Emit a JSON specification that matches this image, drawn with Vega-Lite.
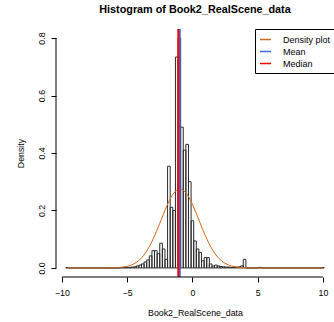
{
  "$schema": "https://vega.github.io/schema/vega-lite/v6.json",
  "width": 278,
  "height": 248,
  "autosize": {"type": "none"},
  "padding": {"left": 56, "top": 29, "right": 0, "bottom": 45},
  "background": "white",
  "title": {
    "text": "Histogram of Book2_RealScene_data",
    "font": "Liberation Sans",
    "fontSize": 10.8,
    "fontWeight": "bold",
    "color": "black",
    "anchor": "middle",
    "offset": 13
  },
  "config": {
    "view": {"stroke": null},
    "font": "Liberation Sans",
    "axis": {
      "grid": false,
      "domain": false,
      "tickColor": "black",
      "tickSize": 5,
      "labelFont": "Liberation Sans",
      "labelFontSize": 8.8,
      "labelColor": "black",
      "titleFont": "Liberation Sans",
      "titleFontSize": 8.8,
      "titleFontWeight": "normal",
      "titleColor": "black"
    }
  },
  "datasets": {
    "bins": [
      {"bin_start": -9.7, "bin_end": -9.5, "density": 0.001},
      {"bin_start": -9.5, "bin_end": -9.3, "density": 0},
      {"bin_start": -9.3, "bin_end": -9.1, "density": 0},
      {"bin_start": -9.1, "bin_end": -8.9, "density": 0},
      {"bin_start": -8.9, "bin_end": -8.7, "density": 0},
      {"bin_start": -8.7, "bin_end": -8.5, "density": 0},
      {"bin_start": -8.5, "bin_end": -8.3, "density": 0},
      {"bin_start": -8.3, "bin_end": -8.1, "density": 0},
      {"bin_start": -8.1, "bin_end": -7.9, "density": 0},
      {"bin_start": -7.9, "bin_end": -7.7, "density": 0},
      {"bin_start": -7.7, "bin_end": -7.5, "density": 0},
      {"bin_start": -7.5, "bin_end": -7.3, "density": 0},
      {"bin_start": -7.3, "bin_end": -7.1, "density": 0},
      {"bin_start": -7.1, "bin_end": -6.9, "density": 0},
      {"bin_start": -6.9, "bin_end": -6.7, "density": 0},
      {"bin_start": -6.7, "bin_end": -6.5, "density": 0},
      {"bin_start": -6.5, "bin_end": -6.3, "density": 0},
      {"bin_start": -6.3, "bin_end": -6.1, "density": 0},
      {"bin_start": -6.1, "bin_end": -5.9, "density": 0},
      {"bin_start": -5.9, "bin_end": -5.7, "density": 0},
      {"bin_start": -5.7, "bin_end": -5.5, "density": 0},
      {"bin_start": -5.5, "bin_end": -5.3, "density": 0.001},
      {"bin_start": -5.3, "bin_end": -5.1, "density": 0.001},
      {"bin_start": -5.1, "bin_end": -4.9, "density": 0.002},
      {"bin_start": -4.9, "bin_end": -4.7, "density": 0.002},
      {"bin_start": -4.7, "bin_end": -4.5, "density": 0.003},
      {"bin_start": -4.5, "bin_end": -4.3, "density": 0.004},
      {"bin_start": -4.3, "bin_end": -4.1, "density": 0.007},
      {"bin_start": -4.1, "bin_end": -3.9, "density": 0.010},
      {"bin_start": -3.9, "bin_end": -3.7, "density": 0.014},
      {"bin_start": -3.7, "bin_end": -3.5, "density": 0.021},
      {"bin_start": -3.5, "bin_end": -3.3, "density": 0.028},
      {"bin_start": -3.3, "bin_end": -3.1, "density": 0.042},
      {"bin_start": -3.1, "bin_end": -2.9, "density": 0.060},
      {"bin_start": -2.9, "bin_end": -2.7, "density": 0.060},
      {"bin_start": -2.7, "bin_end": -2.5, "density": 0.050},
      {"bin_start": -2.5, "bin_end": -2.3, "density": 0.086},
      {"bin_start": -2.3, "bin_end": -2.1, "density": 0.066},
      {"bin_start": -2.1, "bin_end": -1.9, "density": 0.030},
      {"bin_start": -1.9, "bin_end": -1.7, "density": 0.354},
      {"bin_start": -1.7, "bin_end": -1.5, "density": 0.211},
      {"bin_start": -1.5, "bin_end": -1.3, "density": 0.200},
      {"bin_start": -1.3, "bin_end": -1.1, "density": 0.734},
      {"bin_start": -1.1, "bin_end": -0.9, "density": 0.800},
      {"bin_start": -0.9, "bin_end": -0.7, "density": 0.490},
      {"bin_start": -0.7, "bin_end": -0.5, "density": 0.410},
      {"bin_start": -0.5, "bin_end": -0.3, "density": 0.430},
      {"bin_start": -0.3, "bin_end": -0.1, "density": 0.300},
      {"bin_start": -0.1, "bin_end": 0.1, "density": 0.164},
      {"bin_start": 0.1, "bin_end": 0.3, "density": 0.094},
      {"bin_start": 0.3, "bin_end": 0.5, "density": 0.066},
      {"bin_start": 0.5, "bin_end": 0.7, "density": 0.054},
      {"bin_start": 0.7, "bin_end": 0.9, "density": 0.025},
      {"bin_start": 0.9, "bin_end": 1.1, "density": 0.036},
      {"bin_start": 1.1, "bin_end": 1.3, "density": 0.036},
      {"bin_start": 1.3, "bin_end": 1.5, "density": 0.014},
      {"bin_start": 1.5, "bin_end": 1.7, "density": 0.007},
      {"bin_start": 1.7, "bin_end": 1.9, "density": 0.010},
      {"bin_start": 1.9, "bin_end": 2.1, "density": 0.007},
      {"bin_start": 2.1, "bin_end": 2.3, "density": 0.005},
      {"bin_start": 2.3, "bin_end": 2.5, "density": 0.004},
      {"bin_start": 2.5, "bin_end": 2.7, "density": 0.003},
      {"bin_start": 2.7, "bin_end": 2.9, "density": 0.003},
      {"bin_start": 2.9, "bin_end": 3.1, "density": 0.002},
      {"bin_start": 3.1, "bin_end": 3.3, "density": 0.002},
      {"bin_start": 3.3, "bin_end": 3.5, "density": 0.002},
      {"bin_start": 3.5, "bin_end": 3.7, "density": 0.004},
      {"bin_start": 3.7, "bin_end": 3.9, "density": 0.007},
      {"bin_start": 3.9, "bin_end": 4.1, "density": 0.030},
      {"bin_start": 4.1, "bin_end": 4.3, "density": 0},
      {"bin_start": 4.3, "bin_end": 4.5, "density": 0},
      {"bin_start": 4.5, "bin_end": 4.7, "density": 0},
      {"bin_start": 4.7, "bin_end": 4.9, "density": 0},
      {"bin_start": 4.9, "bin_end": 5.1, "density": 0},
      {"bin_start": 5.1, "bin_end": 5.3, "density": 0.002},
      {"bin_start": 5.3, "bin_end": 5.5, "density": 0},
      {"bin_start": 5.5, "bin_end": 5.7, "density": 0},
      {"bin_start": 5.7, "bin_end": 5.9, "density": 0},
      {"bin_start": 5.9, "bin_end": 6.1, "density": 0},
      {"bin_start": 6.1, "bin_end": 6.3, "density": 0},
      {"bin_start": 6.3, "bin_end": 6.5, "density": 0},
      {"bin_start": 6.5, "bin_end": 6.7, "density": 0},
      {"bin_start": 6.7, "bin_end": 6.9, "density": 0},
      {"bin_start": 6.9, "bin_end": 7.1, "density": 0},
      {"bin_start": 7.1, "bin_end": 7.3, "density": 0},
      {"bin_start": 7.3, "bin_end": 7.5, "density": 0},
      {"bin_start": 7.5, "bin_end": 7.7, "density": 0},
      {"bin_start": 7.7, "bin_end": 7.9, "density": 0},
      {"bin_start": 7.9, "bin_end": 8.1, "density": 0},
      {"bin_start": 8.1, "bin_end": 8.3, "density": 0},
      {"bin_start": 8.3, "bin_end": 8.5, "density": 0},
      {"bin_start": 8.5, "bin_end": 8.7, "density": 0},
      {"bin_start": 8.7, "bin_end": 8.9, "density": 0},
      {"bin_start": 8.9, "bin_end": 9.1, "density": 0},
      {"bin_start": 9.1, "bin_end": 9.3, "density": 0},
      {"bin_start": 9.3, "bin_end": 9.5, "density": 0},
      {"bin_start": 9.5, "bin_end": 9.7, "density": 0},
      {"bin_start": 9.7, "bin_end": 9.9, "density": 0},
      {"bin_start": 9.9, "bin_end": 10.1, "density": 0.001}
    ],
    "curve": [
      {"x": -9.6, "density": 0, "series": "Density plot"},
      {"x": -8, "density": 0, "series": "Density plot"},
      {"x": -7, "density": 0.00005, "series": "Density plot"},
      {"x": -6, "density": 0.00064, "series": "Density plot"},
      {"x": -5.5, "density": 0.0020, "series": "Density plot"},
      {"x": -5, "density": 0.0056, "series": "Density plot"},
      {"x": -4.75, "density": 0.0089, "series": "Density plot"},
      {"x": -4.5, "density": 0.0137, "series": "Density plot"},
      {"x": -4.25, "density": 0.0206, "series": "Density plot"},
      {"x": -4, "density": 0.0301, "series": "Density plot"},
      {"x": -3.75, "density": 0.0426, "series": "Density plot"},
      {"x": -3.5, "density": 0.0586, "series": "Density plot"},
      {"x": -3.25, "density": 0.0782, "series": "Density plot"},
      {"x": -3, "density": 0.1013, "series": "Density plot"},
      {"x": -2.75, "density": 0.1274, "series": "Density plot"},
      {"x": -2.5, "density": 0.1554, "series": "Density plot"},
      {"x": -2.25, "density": 0.1840, "series": "Density plot"},
      {"x": -2, "density": 0.2117, "series": "Density plot"},
      {"x": -1.75, "density": 0.2363, "series": "Density plot"},
      {"x": -1.5, "density": 0.2560, "series": "Density plot"},
      {"x": -1.25, "density": 0.2693, "series": "Density plot"},
      {"x": -1, "density": 0.2749, "series": "Density plot"},
      {"x": -0.95, "density": 0.2751, "series": "Density plot"},
      {"x": -0.75, "density": 0.2725, "series": "Density plot"},
      {"x": -0.5, "density": 0.2622, "series": "Density plot"},
      {"x": -0.25, "density": 0.2448, "series": "Density plot"},
      {"x": 0, "density": 0.2220, "series": "Density plot"},
      {"x": 0.25, "density": 0.1953, "series": "Density plot"},
      {"x": 0.5, "density": 0.1669, "series": "Density plot"},
      {"x": 0.75, "density": 0.1383, "series": "Density plot"},
      {"x": 1, "density": 0.1114, "series": "Density plot"},
      {"x": 1.25, "density": 0.0870, "series": "Density plot"},
      {"x": 1.5, "density": 0.0660, "series": "Density plot"},
      {"x": 1.75, "density": 0.0486, "series": "Density plot"},
      {"x": 2, "density": 0.0347, "series": "Density plot"},
      {"x": 2.25, "density": 0.0241, "series": "Density plot"},
      {"x": 2.5, "density": 0.0162, "series": "Density plot"},
      {"x": 2.75, "density": 0.0106, "series": "Density plot"},
      {"x": 3, "density": 0.0067, "series": "Density plot"},
      {"x": 3.5, "density": 0.0025, "series": "Density plot"},
      {"x": 4, "density": 0.0008, "series": "Density plot"},
      {"x": 4.5, "density": 0.0002, "series": "Density plot"},
      {"x": 5, "density": 0.00005, "series": "Density plot"},
      {"x": 6, "density": 0, "series": "Density plot"},
      {"x": 10, "density": 0, "series": "Density plot"}
    ],
    "stats": [
      {"series": "Mean", "value": -0.97},
      {"series": "Median", "value": -1.08}
    ],
    "x_axis_line": [{"from": -10, "to": 10, "level": -0.0315}],
    "y_axis_line": [{"pos": -10.45, "from": 0, "to": 0.8}]
  },
  "layer": [
    {
      "data": {"name": "bins"},
      "mark": {"type": "bar", "fillOpacity": 0, "stroke": "#2a2a2a", "strokeWidth": 1},
      "encoding": {
        "x": {
          "field": "bin_start",
          "type": "quantitative",
          "scale": {"domain": [-10.45, 10.85], "nice": false, "zero": false},
          "axis": {
            "values": [-10, -5, 0, 5, 10],
            "title": "Book2_RealScene_data",
            "labelPadding": 6,
            "titlePadding": 12
          }
        },
        "x2": {"field": "bin_end"},
        "y": {
          "field": "density",
          "type": "quantitative",
          "scale": {"domain": [-0.0315, 0.8315], "nice": false, "zero": false},
          "axis": {
            "values": [0, 0.2, 0.4, 0.6, 0.8],
            "format": ".1f",
            "title": "Density",
            "labelAngle": -90,
            "labelAlign": "center",
            "labelBaseline": "bottom",
            "labelPadding": 5,
            "titlePadding": 12
          }
        },
        "y2": {"datum": 0}
      }
    },
    {
      "data": {"name": "curve"},
      "mark": {"type": "line", "strokeWidth": 1},
      "encoding": {
        "x": {"field": "x", "type": "quantitative"},
        "y": {"field": "density", "type": "quantitative"},
        "color": {
          "field": "series",
          "type": "nominal",
          "scale": {
            "domain": ["Density plot", "Mean", "Median"],
            "range": ["#D2691E", "#4169E1", "#FF0000"]
          },
          "legend": {
            "title": null,
            "orient": "none",
            "legendX": 199,
            "legendY": 0,
            "strokeColor": "black",
            "fillColor": "white",
            "padding": 4,
            "symbolType": "stroke",
            "symbolStrokeWidth": 1.5,
            "symbolSize": 120,
            "labelFont": "Liberation Sans",
            "labelFontSize": 9,
            "labelColor": "black",
            "labelOffset": 11,
            "rowPadding": 0,
            "cornerRadius": 0
          }
        }
      }
    },
    {
      "data": {"name": "stats"},
      "mark": {"type": "rule", "strokeWidth": 2},
      "encoding": {
        "x": {"field": "value", "type": "quantitative"},
        "color": {"field": "series", "type": "nominal"}
      }
    },
    {
      "data": {"name": "x_axis_line"},
      "mark": {"type": "rule", "color": "black", "strokeWidth": 1},
      "encoding": {
        "x": {"field": "from", "type": "quantitative"},
        "x2": {"field": "to"},
        "y": {"field": "level", "type": "quantitative"}
      }
    },
    {
      "data": {"name": "y_axis_line"},
      "mark": {"type": "rule", "color": "black", "strokeWidth": 1},
      "encoding": {
        "x": {"field": "pos", "type": "quantitative"},
        "y": {"field": "from", "type": "quantitative"},
        "y2": {"field": "to"}
      }
    }
  ]
}
